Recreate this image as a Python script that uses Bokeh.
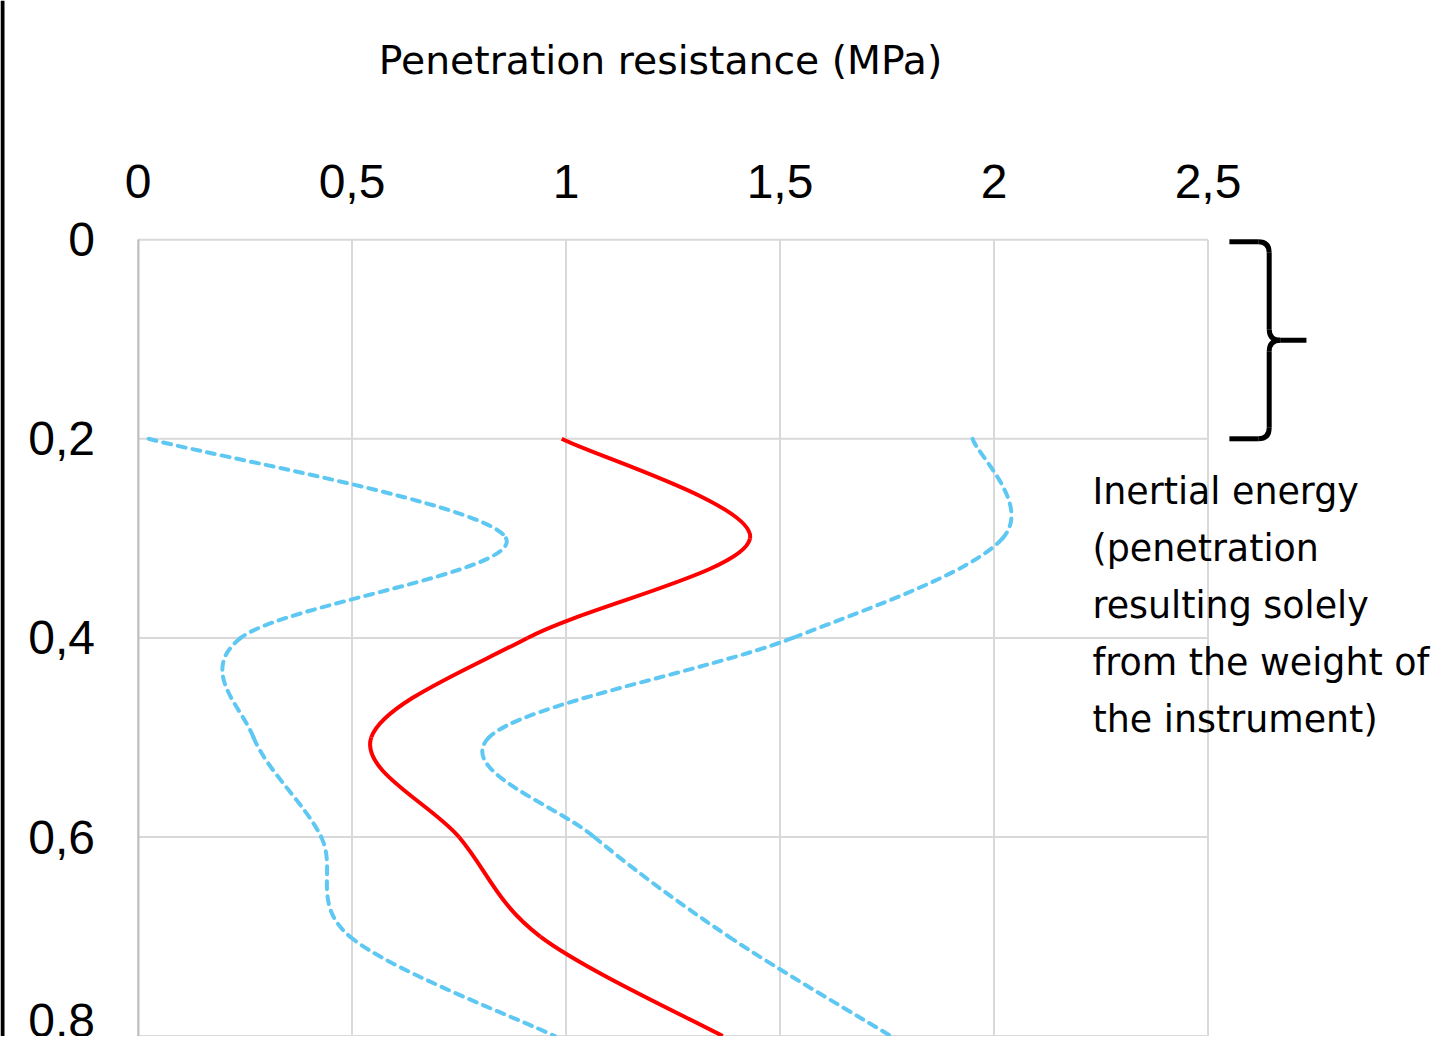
from bokeh.plotting import figure
from bokeh.models import Range1d, LinearAxis, FixedTicker, CustomJSTickFormatter, ColumnDataSource
from bokeh.core.properties import value
from bokeh.embed import file_html
from bokeh.resources import INLINE

# ---------------- data ----------------
depth = [0.2, 0.3, 0.4, 0.5, 0.6, 0.7, 0.8]
mean_resistance = [0.99, 1.43, 0.91, 0.545, 0.75, 0.94, 1.366]
lower_bound = [0.025, 0.86, 0.24, 0.27, 0.428, 0.495, 0.974]
upper_bound = [1.95, 2.02, 1.53, 0.82, 1.066, 1.38, 1.759]

x_ticks = [0, 0.5, 1, 1.5, 2, 2.5]
x_tick_labels = ["0", "0,5", "1", "1,5", "2", "2,5"]
y_ticks = [0, 0.2, 0.4, 0.6, 0.8]
y_tick_labels = ["0", "0,2", "0,4", "0,6", "0,8"]

x_title = "Penetration resistance (MPa)"
note_lines = ["Inertial energy", "(penetration", "resulting solely",
              "from the weight of", "the instrument)"]
inertial_zone = [0.0, 0.2]

# ---------------- layout ----------------
W, H = 1438, 1036
PX_X, X0_PX = 428.0, 137.5      # pixels per MPa, canvas px of x=0
PX_Y, Y0_PX = 995.5, 239.2      # pixels per m, canvas px of depth 0

x_range = Range1d(-X0_PX / PX_X, (W - X0_PX) / PX_X)
y_range = Range1d((H - Y0_PX) / PX_Y, -Y0_PX / PX_Y)

p = figure(width=W, height=H, x_range=x_range, y_range=y_range,
           output_backend="svg", toolbar_location=None,
           x_axis_location=None, y_axis_location=None,
           min_border=0, outline_line_color=None)
p.xgrid.visible = False
p.ygrid.visible = False
p.background_fill_color = "white"
p.border_fill_color = "white"

GRID = "#d9d9d9"
# grid lines from the tick lists
p.segment(x0=x_ticks, y0=[y_ticks[0]] * len(x_ticks), x1=x_ticks, y1=[y_ticks[-1]] * len(x_ticks),
          line_color=GRID, line_width=2)
p.segment(x0=[x_ticks[0]] * len(y_ticks), y0=y_ticks, x1=[x_ticks[-1]] * len(y_ticks), y1=y_ticks,
          line_color=GRID, line_width=2)

fmt_code = """
const i = tick_vals.findIndex(t => Math.abs(t - tick) < 1e-9);
return i >= 0 ? tick_texts[i] : tick.toString().replace('.', ',');
"""

yaxis = LinearAxis(fixed_location=0, ticker=FixedTicker(ticks=y_ticks),
                   formatter=CustomJSTickFormatter(args=dict(tick_vals=y_ticks, tick_texts=y_tick_labels),
                                                   code=fmt_code),
                   bounds=(y_ticks[0], y_ticks[-1]),
                   axis_line_color="#bfbfbf", axis_line_width=2,
                   major_tick_line_color=None, minor_tick_line_color=None,
                   major_label_text_font="Liberation Sans", major_label_text_font_size="48px",
                   major_label_text_color="black", major_label_standoff=37)
p.add_layout(yaxis, "left")

xaxis = LinearAxis(fixed_location=0, ticker=FixedTicker(ticks=x_ticks),
                   formatter=CustomJSTickFormatter(args=dict(tick_vals=x_ticks, tick_texts=x_tick_labels),
                                                   code=fmt_code),
                   bounds=(-0.06, x_ticks[-1]),
                   axis_line_color=None,
                   major_tick_line_color=None, minor_tick_line_color=None,
                   major_label_text_font="Liberation Sans", major_label_text_font_size="48px",
                   major_label_text_color="black", major_label_standoff=36,
                   axis_label=x_title, axis_label_text_font="DejaVu Sans",
                   axis_label_text_font_size="39.3px", axis_label_text_font_style="normal",
                   axis_label_text_color="black", axis_label_standoff=79)
p.add_layout(xaxis, "above")


def smooth_segments(xs, ys):
    n = len(xs)
    out = dict(x0=[], y0=[], x1=[], y1=[], cx0=[], cy0=[], cx1=[], cy1=[])
    for i in range(n - 1):
        xp, yp = (xs[i - 1], ys[i - 1]) if i > 0 else (xs[i], ys[i])
        xn, yn = (xs[i + 2], ys[i + 2]) if i + 2 < n else (xs[i + 1], ys[i + 1])
        out["x0"].append(xs[i]); out["y0"].append(ys[i])
        out["x1"].append(xs[i + 1]); out["y1"].append(ys[i + 1])
        out["cx0"].append(xs[i] + (xs[i + 1] - xp) / 6.0)
        out["cy0"].append(ys[i] + (ys[i + 1] - yp) / 6.0)
        out["cx1"].append(xs[i + 1] - (xn - xs[i]) / 6.0)
        out["cy1"].append(ys[i + 1] - (yn - ys[i]) / 6.0)
    return ColumnDataSource(out)


BLUE = "#5ec8f2"
for series in (lower_bound, upper_bound):
    p.bezier(x0="x0", y0="y0", x1="x1", y1="y1", cx0="cx0", cy0="cy0", cx1="cx1", cy1="cy1",
             source=smooth_segments(series, depth), line_color=BLUE, line_width=4,
             line_dash="8 7", line_cap="round")
p.bezier(x0="x0", y0="y0", x1="x1", y1="y1", cx0="cx0", cy0="cy0", cx1="cx1", cy1="cy1",
         source=smooth_segments(mean_resistance, depth), line_color="#ff0000", line_width=4)

# ---------------- brace marking the inertial zone ----------------
top, bot = inertial_zone[0] + 0.002, inertial_zone[1]
mid = (top + bot) / 2
bx_left, bx_spine, bx_tip = 2.55, 2.643, 2.73
rx, ry = 11 / PX_X, 11 / PX_Y
BR = dict(line_color="black", line_width=5)
p.segment(x0=[bx_left, bx_spine, bx_spine + rx, bx_spine, bx_spine - rx],
          y0=[top, top + ry, mid, mid + ry, bot],
          x1=[bx_spine - rx, bx_spine, bx_tip, bx_spine, bx_left],
          y1=[top, mid - ry, mid, bot - ry, bot], **BR)
p.quadratic(x0=[bx_spine - rx, bx_spine, bx_spine + rx, bx_spine],
            y0=[top, mid - ry, mid, bot - ry],
            cx=[bx_spine, bx_spine, bx_spine, bx_spine],
            cy=[top, mid, mid, bot],
            x1=[bx_spine, bx_spine + rx, bx_spine, bx_spine - rx],
            y1=[top + ry, mid, mid + ry, bot], **BR)

# ---------------- note text ----------------
note_x = (1092 - X0_PX) / PX_X
note_y0 = (491 - Y0_PX) / PX_Y
note_dy = 57.1 / PX_Y
p.text(x=[note_x] * len(note_lines), y=[note_y0 + i * note_dy for i in range(len(note_lines))],
       text=note_lines, text_font=value("DejaVu Sans"), text_font_size="36.4px",
       text_color="black", text_align="left", text_baseline="alphabetic")

# left black rule
p.segment(x0=[x_range.start + 2 / PX_X], y0=[y_range.end], x1=[x_range.start + 2 / PX_X],
          y1=[y_ticks[-1] + 0.002], line_color="black", line_width=4)

open("out.html", "w").write(file_html(p, INLINE))
